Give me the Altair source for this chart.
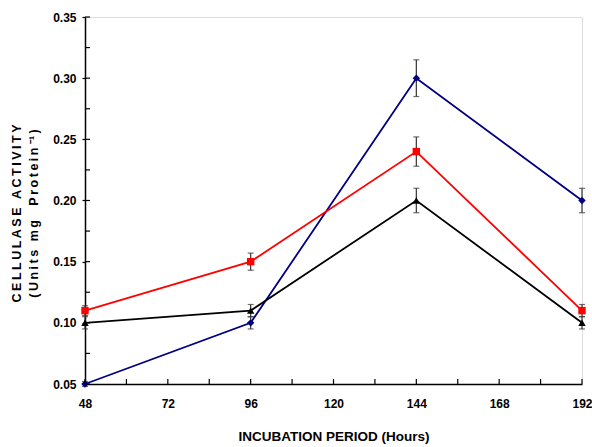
import altair as alt
import pandas as pd

hours = [48, 96, 144, 192]
series_names = ["Blue", "Red", "Black"]
blue_vals = [0.05, 0.10, 0.30, 0.20]
blue_err = [0.002, 0.005, 0.015, 0.010]
red_vals = [0.11, 0.15, 0.24, 0.11]
red_err = [0.004, 0.007, 0.012, 0.005]
black_vals = [0.10, 0.11, 0.20, 0.10]
black_err = [0.005, 0.005, 0.010, 0.005]
x_ticks = [48, 72, 96, 120, 144, 168, 192]
x_minor = [48, 60, 72, 84, 96, 108, 120, 132, 144, 156, 168, 180, 192]
y_ticks = [0.05, 0.10, 0.15, 0.20, 0.25, 0.30, 0.35]
y_minor = [0.05, 0.075, 0.10, 0.125, 0.15, 0.175, 0.20, 0.225, 0.25, 0.275, 0.30, 0.325, 0.35]

colors = {"Blue": "#000080", "Red": "#ff0000", "Black": "#000000"}
shapes = {"Blue": "diamond", "Red": "square", "Black": "triangle-up"}

rows = []
for name, vals, errs in [("Blue", blue_vals, blue_err), ("Red", red_vals, red_err), ("Black", black_vals, black_err)]:
    for h, v, e in zip(hours, vals, errs):
        rows.append({"series": name, "hour": h, "val": v, "lo": v - e, "hi": v + e})
df = pd.DataFrame(rows)

W, H = 497, 367
FONT = "Liberation Sans"
TS = "\u2009"


def spaced(s):
    return TS.join(list(s))


y_title = [spaced("CELLULASE ACTIVITY"), spaced("(Units mg  Protein") + " \u207b\u00b9" + TS + ")"]

xs = alt.Scale(domain=[48, 192], nice=False)
ys = alt.Scale(domain=[0.05, 0.35], nice=False)
cscale = alt.Scale(domain=series_names, range=[colors[s] for s in series_names])
sscale = alt.Scale(domain=series_names, range=[shapes[s] for s in series_names])

base = alt.Chart(df)

xaxis = alt.Axis(values=x_ticks, title="INCUBATION PERIOD (Hours)", grid=False, tickSize=0,
                 labelFont=FONT, labelFontWeight="bold", labelFontSize=12, labelColor="black",
                 labelPadding=14, labelFlush=False, domainColor="black", domainWidth=1.5,
                 titleFont=FONT, titleFontWeight="bold", titleFontSize=13.5, titlePadding=20,
                 titleColor="black")
yaxis = alt.Axis(values=y_ticks, title=y_title,
                 format=".2f", grid=False, tickSize=3, tickColor="black", tickWidth=1.2,
                 labelFont=FONT, labelFontWeight="bold", labelFontSize=12, labelColor="black",
                 labelPadding=6, domainColor="black", domainWidth=1.5,
                 titleFont=FONT, titleFontWeight="bold", titleFontSize=12.5, titlePadding=12,
                 titleColor="black", titleLineHeight=17, titleY=196)

lines = base.mark_line(strokeWidth=1.8).encode(
    x=alt.X("hour:Q", scale=xs, axis=xaxis),
    y=alt.Y("val:Q", scale=ys, axis=yaxis),
    color=alt.Color("series:N", scale=cscale, legend=None),
    detail="series:N",
)

err = base.mark_rule(color="#333333", strokeWidth=1.2).encode(
    x="hour:Q", y="lo:Q", y2="hi:Q")
cap_lo = base.mark_tick(color="#333333", orient="horizontal", size=6, thickness=1.2).encode(
    x="hour:Q", y="lo:Q")
cap_hi = base.mark_tick(color="#333333", orient="horizontal", size=6, thickness=1.2).encode(
    x="hour:Q", y="hi:Q")

pts = base.mark_point(filled=True, opacity=1, size=55).encode(
    x="hour:Q", y="val:Q",
    color=alt.Color("series:N", scale=cscale, legend=None),
    shape=alt.Shape("series:N", scale=sscale, legend=None),
)

xt = alt.Chart(pd.DataFrame({"h": x_minor})).mark_rule(color="black", strokeWidth=1.2).encode(
    x=alt.X("h:Q", scale=xs), y=alt.value(H), y2=alt.value(H - 5))
yt = alt.Chart(pd.DataFrame({"v": y_minor})).mark_rule(color="black", strokeWidth=1.2).encode(
    y=alt.Y("v:Q", scale=ys), x=alt.value(0), x2=alt.value(5))

chart = alt.layer(lines, err, cap_lo, cap_hi, pts, xt, yt).properties(
    width=W, height=H,
    autosize=alt.AutoSizeParams(type="none"),
    padding={"left": 85, "top": 17, "right": 10, "bottom": 63},
).configure_view(stroke=None).configure(background="white")

chart.save("out.html", embed_options={"renderer": "svg", "actions": False})
